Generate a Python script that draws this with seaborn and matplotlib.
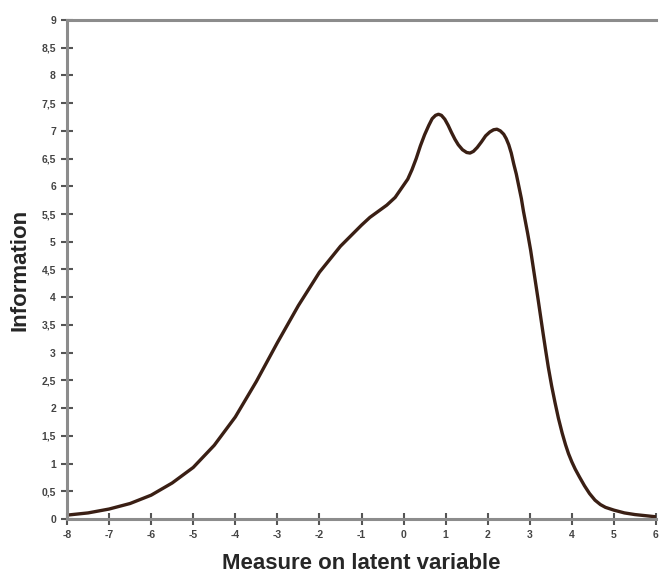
import numpy as np
import pandas as pd
import seaborn as sns
import matplotlib.pyplot as plt

# values
theta = [-8, -7.5, -7, -6.5, -6, -5.5, -5, -4.5, -4, -3.5, -3, -2.5, -2, -1.5, -1,
         -0.8, -0.6, -0.4, -0.2, 0, 0.1, 0.2, 0.3, 0.4, 0.5, 0.6, 0.68, 0.76, 0.83,
         0.9, 0.98, 1.06, 1.14, 1.22, 1.3, 1.4, 1.5, 1.58, 1.66, 1.75, 1.85, 1.95,
         2.05, 2.14, 2.22, 2.3, 2.38, 2.44, 2.5, 2.56, 2.62, 2.68, 2.74, 2.8, 2.85,
         2.9, 2.95, 3.02, 3.08, 3.14, 3.2, 3.26, 3.32, 3.38, 3.44, 3.52, 3.6, 3.68,
         3.77, 3.85, 3.92, 4.0, 4.08, 4.18, 4.3, 4.42, 4.55, 4.68, 4.8, 5.0, 5.25,
         5.5, 5.75, 6]
info = [0.07, 0.11, 0.18, 0.28, 0.43, 0.65, 0.93, 1.33, 1.84, 2.48, 3.18, 3.85, 4.45,
        4.92, 5.3, 5.44, 5.55, 5.66, 5.8, 6.02, 6.13, 6.3, 6.5, 6.73, 6.93, 7.1, 7.22,
        7.28, 7.3, 7.28, 7.21, 7.1, 6.97, 6.85, 6.75, 6.66, 6.61, 6.6, 6.63, 6.7, 6.8,
        6.91, 6.98, 7.02, 7.03, 7.0, 6.94, 6.86, 6.75, 6.6, 6.4, 6.22, 6.0, 5.78, 5.55,
        5.35, 5.15, 4.85, 4.55, 4.25, 3.95, 3.64, 3.33, 3.03, 2.74, 2.4, 2.1, 1.82,
        1.55, 1.34, 1.18, 1.03, 0.9, 0.76, 0.6, 0.46, 0.34, 0.26, 0.21, 0.16, 0.11,
        0.08, 0.06, 0.04]

x_ticks = list(range(-8, 7))
y_ticks = [i * 0.5 for i in range(19)]

df = pd.DataFrame({'theta': theta, 'info': info})

sns.set_style('white')
plt.rcParams['font.family'] = ['Liberation Sans', 'DejaVu Sans']

fig = plt.figure(figsize=(6.61, 5.74), dpi=100)
ax = fig.add_axes([0.1014, 0.0958, 0.8910, 0.8694])

sns.lineplot(ax=ax, data=df, x='theta', y='info', color='#3a1f14', linewidth=2.4)

ax.set_xlim(-8, 6)
ax.set_ylim(0, 9)
ax.set_xticks(x_ticks)
ax.set_yticks(y_ticks)
ax.set_xticklabels([str(t) for t in x_ticks])
ax.set_yticklabels([('%g' % t).replace('.', ',') for t in y_ticks])

for side in ['left', 'bottom', 'top']:
    ax.spines[side].set_visible(True)
    ax.spines[side].set_color('#8c8c8c')
    ax.spines[side].set_linewidth(2.2)
ax.spines['right'].set_visible(False)

ax.tick_params(axis='both', direction='inout', length=8, width=1.5, color='#555555',
               labelsize=7.5, labelcolor='#444444', pad=4, bottom=True, left=True)
for lab in ax.get_xticklabels() + ax.get_yticklabels():
    lab.set_fontweight('bold')

ax.set_xlabel('Measure on latent variable', fontsize=16, fontweight='bold', labelpad=9)
ax.set_ylabel('Information', fontsize=16, fontweight='bold', labelpad=8)

fig.savefig('out.png', dpi=100)
